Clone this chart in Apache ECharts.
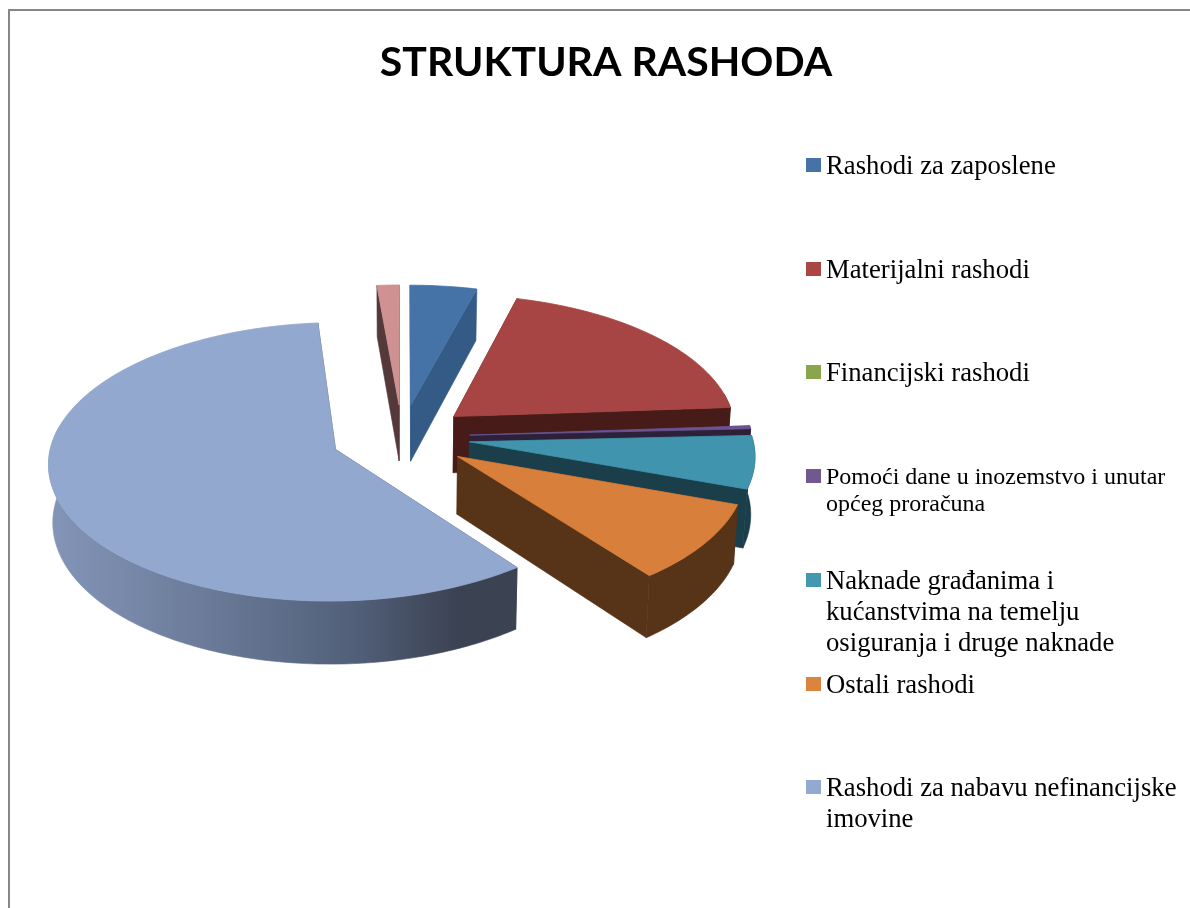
<!DOCTYPE html>
<html>
<head>
<meta charset="utf-8">
<style>
html, body { margin: 0; padding: 0; background: #fff; }
#chart1 { width: 1190px; height: 908px; }
</style>
<script src="https://cdn.jsdelivr.net/npm/echarts@6/dist/echarts.min.js"></script>
</head>
<body>
<div id="chart1"></div>
<script>
var titleText = 'STRUKTURA RASHODA';

// legend texts, the last slice (pink) has no legend entry in the picture
var categories = [
  'Rashodi za zaposlene',
  'Materijalni rashodi',
  'Financijski rashodi',
  'Pomoći dane u inozemstvo i unutar\nopćeg proračuna',
  'Naknade građanima i\nkućanstvima na temelju\nosiguranja i druge naknade',
  'Ostali rashodi',
  'Rashodi za nabavu nefinancijske\nimovine'
];

// share of each slice in %
var values = [4.2, 19.7, 0, 0.35, 6.2, 9.15, 59, 1.4];

var topColors = ['#4572a7', '#a64543', '#89a54e', '#6c5391', '#4094ad', '#d77f3b', '#93a8cf', '#cf9191'];
var wallColors = ['#345a86', '#461b18', '#4f6030', '#2c2138', '#1a3e4a', '#573318', '#3b4252', '#54383a'];
var legendColors = ['#4572a7', '#aa4643', '#89a54e', '#71588f', '#4198af', '#db843d', '#93a9cf'];
var legendFontSizes = [26.7, 26.7, 26.7, 24, 26.7, 26.7, 26.7];
var legendLineHeights = [31, 31, 31, 27, 31, 31, 31];

// pie geometry
var cx = 402, cy = 437, rx = 283, ry = 136;
var explodes = [0.24, 0.24, 0.24, 0.24, 0.24, 0.24, 0.25, 0.24];
var depth = 57, persp = 0.088, shrink = 0.988;

var total = values.reduce(function (a, b) { return a + b; }, 0);

function project(X, Y, down) {
  var s = 1 / (1 - persp * Y);
  var k = down ? shrink : 1;
  return [cx + rx * X * s * k, cy + ry * Y * s + (down ? depth * s : 0)];
}

function renderSlice(params, api) {
  var i = params.dataIndex;
  var v = api.value(0);
  if (!v) return null;

  var before = 0;
  for (var n = 0; n < i; n++) before += values[n];
  var a0 = before / total * 360;
  var a1 = (before + v) / total * 360;
  var mid = (a0 + a1) / 2 * Math.PI / 180;
  var ox = explodes[i] * Math.sin(mid);
  var oy = -explodes[i] * Math.cos(mid);

  function rim(deg, down) {
    var r = deg * Math.PI / 180;
    return project(ox + Math.sin(r), oy - Math.cos(r), down);
  }
  function arc(from, to, down) {
    var pts = [];
    var steps = Math.max(2, Math.ceil(Math.abs(to - from)));
    for (var t = 0; t <= steps; t++) pts.push(rim(from + (to - from) * t / steps, down));
    return pts;
  }

  var children = [];
  var z = Math.round((oy + 1) * 100) * 10;
  var wallFill = wallColors[i];
  if (i === 6) {
    wallFill = {
      type: 'linear', x: 51, y: 0, x2: 515, y2: 0, global: true,
      colorStops: [
        { offset: 0, color: '#8395b8' },
        { offset: 0.33, color: '#6b7b99' },
        { offset: 0.66, color: '#515f78' },
        { offset: 0.88, color: '#3b4252' },
        { offset: 1, color: '#3b4252' }
      ]
    };
  }

  // cut faces
  [a0, a1].forEach(function (deg) {
    children.push({
      type: 'polygon', z2: z,
      shape: { points: [project(ox, oy, false), rim(deg, false), rim(deg, true), project(ox, oy, true)] },
      style: { fill: wallColors[i], stroke: wallColors[i], lineWidth: 0.6 }
    });
  });

  // outer wall, only the part turned to the viewer
  var w0 = Math.max(a0, 80), w1 = Math.min(a1, 280);
  if (w1 > w0) {
    children.push({
      type: 'polygon', z2: z + 1,
      shape: { points: arc(w0, w1, false).concat(arc(w1, w0, true)) },
      style: { fill: wallFill, stroke: wallFill, lineWidth: 0.6 }
    });
  }

  // top face
  children.push({
    type: 'polygon', z2: z + 2,
    shape: { points: [project(ox, oy, false)].concat(arc(a0, a1, false)) },
    style: { fill: topColors[i], stroke: topColors[i], lineWidth: 0.8 }
  });

  return { type: 'group', children: children };
}

// legend, first lines are evenly spaced
var legendTop = 165, legendStep = 103.7;
var legendItems = [];
categories.forEach(function (name, i) {
  var y = legendTop + legendStep * i;
  legendItems.push({
    type: 'rect', silent: true,
    shape: { x: 806, y: Math.round(y) - 7, width: 15, height: 14 },
    style: { fill: legendColors[i] }
  });
  legendItems.push({
    type: 'text', silent: true, x: 826, y: Math.round(y) - legendLineHeights[i] / 2 + 1.5,
    style: {
      text: name, fill: '#000',
      font: legendFontSizes[i] + 'px "Liberation Serif"',
      lineHeight: legendLineHeights[i],
      textAlign: 'left', textVerticalAlign: 'top'
    }
  });
});

var frame = {
  type: 'polyline', silent: true,
  shape: { points: [[9, 908], [9, 10], [1190, 10]] },
  style: { stroke: '#868686', lineWidth: 2, fill: null }
};

var myChart = echarts.init(document.getElementById('chart1'), null, { renderer: 'canvas' });

var option = {
  animation: false,
  backgroundColor: '#fff',
  title: {
    text: titleText,
    left: 601, top: 37, textAlign: 'center',
    textStyle: { fontFamily: 'Lato', fontWeight: 'bold', fontSize: 41, color: '#000' }
  },
  graphic: [frame].concat(legendItems),
  series: [{
    type: 'custom',
    coordinateSystem: 'none',
    silent: true,
    renderItem: renderSlice,
    data: values.map(function (v) { return [v]; })
  }]
};

myChart.setOption(option);
</script>
</body>
</html>
